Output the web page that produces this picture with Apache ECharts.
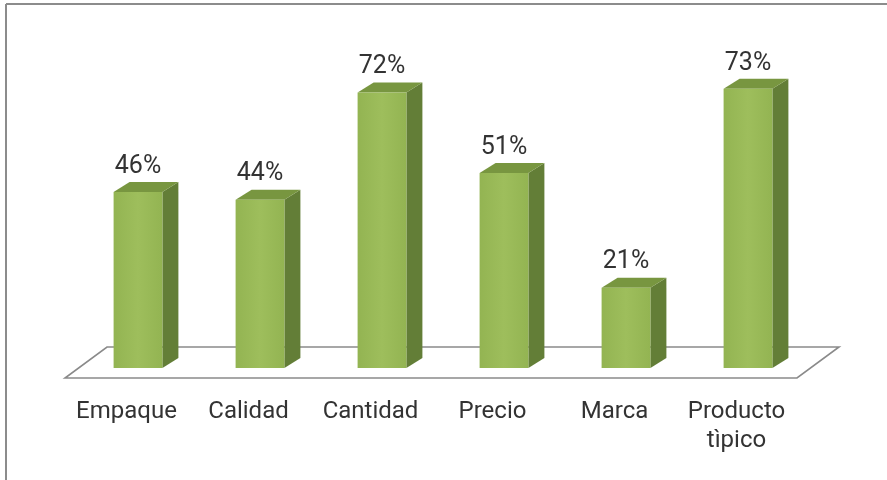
<!DOCTYPE html>
<html>
<head>
<meta charset="utf-8">
<style>
  html, body { margin: 0; padding: 0; background: #ffffff; }
  #chart { width: 887px; height: 480px; }
</style>
<script src="https://cdn.jsdelivr.net/npm/echarts@6/dist/echarts.min.js"></script>
</head>
<body>
<div id="chart"></div>
<script>
// Attributes rated by respondents (percent)
const categories = ['Empaque', 'Calidad', 'Cantidad', 'Precio', 'Marca', 'Producto\ntìpico'];
const values = [46, 44, 72, 51, 21, 73];

const FONT = 'Roboto, "Liberation Sans", sans-serif';
const TEXT_COLOR = '#333333';
// Pseudo-3D depth of each bar and of the floor plate
const BAR_DX = 16, BAR_DY = -10;
const FLOOR_DX = 42, FLOOR_DY = -31;

const chart = echarts.init(document.getElementById('chart'), null, { renderer: 'canvas' });

function renderBar(params, api) {
  const base = api.coord([api.value(0), 0]);
  const top = api.coord([api.value(0), api.value(1)]);
  const w = api.size([1, 0])[0] * 0.4;
  const x0 = base[0] - w / 2, x1 = base[0] + w / 2;
  const y0 = base[1], y1 = top[1];
  return {
    type: 'group',
    children: [
      { // side face
        type: 'polygon',
        shape: { points: [[x1, y1], [x1 + BAR_DX, y1 + BAR_DY], [x1 + BAR_DX, y0 + BAR_DY], [x1, y0]] },
        style: { fill: '#637e37' }
      },
      { // top face
        type: 'polygon',
        shape: { points: [[x0, y1], [x0 + BAR_DX, y1 + BAR_DY], [x1 + BAR_DX, y1 + BAR_DY], [x1, y1]] },
        style: { fill: '#789640' }
      },
      { // front face
        type: 'rect',
        shape: { x: x0, y: y1, width: w, height: y0 - y1 },
        style: {
          fill: new echarts.graphic.LinearGradient(0, 0, 1, 0, [
            { offset: 0, color: '#93b452' },
            { offset: 0.5, color: '#9ebe5c' },
            { offset: 1, color: '#93b452' }
          ])
        }
      },
      { // value label
        type: 'text',
        style: {
          text: api.value(1) + '%',
          x: base[0],
          y: y1 - 25.5,
          align: 'center',
          verticalAlign: 'middle',
          fill: TEXT_COLOR,
          font: '25px ' + FONT
        }
      }
    ]
  };
}

function renderFloor(params, api) {
  const cs = params.coordSys;
  const yFront = cs.y + cs.height + 10;
  const xl = cs.x - 12, xr = cs.x + cs.width - 12;
  return {
    type: 'polygon',
    shape: {
      points: [[xl, yFront], [xr, yFront], [xr + FLOOR_DX, yFront + FLOOR_DY], [xl + FLOOR_DX, yFront + FLOOR_DY]]
    },
    style: { fill: '#ffffff', stroke: '#8a8a8a', lineWidth: 1.6 }
  };
}

chart.setOption({
  animation: false,
  backgroundColor: '#ffffff',
  grid: { left: 77, right: 78, top: 62, bottom: 112, containLabel: false },
  xAxis: {
    type: 'category',
    data: categories,
    axisLine: { show: false },
    axisTick: { show: false },
    splitLine: { show: false },
    axisLabel: {
      interval: 0,
      margin: 29,
      color: TEXT_COLOR,
      fontFamily: FONT,
      fontSize: 24,
      lineHeight: 29,
      verticalAlign: 'top',
      padding: [0, 23, 0, 0]
    }
  },
  yAxis: {
    type: 'value',
    min: 0,
    max: 80,
    show: false
  },
  graphic: [
    { type: 'line', shape: { x1: 6, y1: 4, x2: 887, y2: 4 }, style: { stroke: '#8c8c8c', lineWidth: 2 }, z: 100 },
    { type: 'line', shape: { x1: 6, y1: 4, x2: 6, y2: 480 }, style: { stroke: '#8c8c8c', lineWidth: 2 }, z: 100 }
  ],
  series: [
    {
      type: 'custom',
      name: 'floor',
      coordinateSystem: 'cartesian2d',
      renderItem: renderFloor,
      data: [[0, 0]],
      clip: false,
      z: 1,
      silent: true
    },
    {
      type: 'custom',
      name: 'bars',
      coordinateSystem: 'cartesian2d',
      renderItem: renderBar,
      data: categories.map((c, i) => [i, values[i]]),
      clip: false,
      z: 2
    }
  ]
});
</script>
</body>
</html>
